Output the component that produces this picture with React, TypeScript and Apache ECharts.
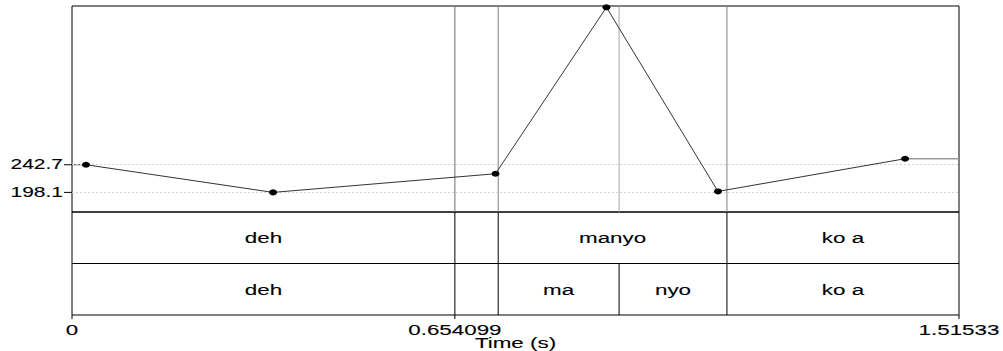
import React, { useEffect, useRef } from "react";
import * as echarts from "echarts";

// ---- data ----
const TIME_MIN = 0;
const TIME_MAX = 1.51533;
const PITCH_MIN = 166.5;
const PITCH_MAX = 498.7;

const pitchTimes = [0.0239, 0.3435, 0.7235, 0.913, 1.1036, 1.4232];
const pitchValues = [242.7, 198.1, 228.2, 496.6, 199.7, 252.4];

const pitchTickValues = [242.7, 198.1];
const pitchTickLabels = ["242.7", "198.1"];

const timeTickValues = [0, 0.654099, 1.51533];
const timeTickLabels = ["0", "0.654099", "1.51533"];
const timeAxisTitle = "Time (s)";

// tier 1 (top): words, tier 2 (bottom): syllables
const tier1Starts = [0, 0.654099, 0.7281, 1.1189];
const tier1Ends = [0.654099, 0.7281, 1.1189, 1.51533];
const tier1Labels = ["deh", "", "manyo", "ko a"];

const tier2Starts = [0, 0.654099, 0.7281, 0.9346, 1.1189];
const tier2Ends = [0.654099, 0.7281, 0.9346, 1.1189, 1.51533];
const tier2Labels = ["deh", "", "ma", "nyo", "ko a"];

const boundaryTimes = [0.654099, 0.7281, 0.9346, 1.1189];

// ---- styles ----
const FONT = '"Liberation Sans", Arial, sans-serif';
const boundaryColors = ["#6a6a6a", "#808080", "#a8a8a8", "#808080"];

type TierItem = { start: number; end: number; tier: number; label: string };
const tierItems: TierItem[] = [
  ...tier1Starts.map((s, i) => ({ start: s, end: tier1Ends[i], tier: 1, label: tier1Labels[i] })),
  ...tier2Starts.map((s, i) => ({ start: s, end: tier2Ends[i], tier: 0, label: tier2Labels[i] })),
];

const textStyle = (text: string, align: string, verticalAlign: string) => ({
  text,
  align,
  verticalAlign,
  fontSize: 14,
  fontFamily: FONT,
  fill: "#000",
  stroke: "#000",
  lineWidth: 0.1,
});

export default function App() {
  const ref = useRef<HTMLDivElement>(null);

  useEffect(() => {
    if (!ref.current) return;
    const chart = echarts.init(ref.current, undefined, { renderer: "svg" });

    const pitchData = pitchTimes.map((t, i) => [t, pitchValues[i]]);
    const firstIdx = 0;
    const lastIdx = pitchTimes.length - 1;

    const option: any = {
      animation: false,
      backgroundColor: "#fff",
      grid: [
        { left: 72, right: 44, top: 6, height: 206, show: true, borderColor: "#000", borderWidth: 1, backgroundColor: "transparent" },
        { left: 72, right: 44, top: 212, height: 103, show: true, borderColor: "#000", borderWidth: 1, backgroundColor: "transparent" },
      ],
      xAxis: [
        { type: "value", gridIndex: 0, min: TIME_MIN, max: TIME_MAX, show: false },
        { type: "value", gridIndex: 1, min: TIME_MIN, max: TIME_MAX, show: false },
      ],
      yAxis: [
        { type: "value", gridIndex: 0, min: PITCH_MIN, max: PITCH_MAX, show: false },
        { type: "value", gridIndex: 1, min: 0, max: 2, show: false },
      ],
      series: [
        // dotted guide lines at the labelled pitch values
        {
          type: "line",
          xAxisIndex: 0,
          yAxisIndex: 0,
          data: [],
          silent: true,
          markLine: {
            silent: true,
            symbol: "none",
            label: { show: false },
            animation: false,
            data: pitchTickValues.map((v) => ({
              yAxis: v,
              lineStyle: { color: "#d4d4d4", type: [2, 2], width: 1 },
            })),
          },
        },
        // boundary lines across the pitch area
        {
          type: "custom",
          xAxisIndex: 0,
          yAxisIndex: 0,
          clip: false,
          silent: true,
          data: boundaryTimes.map((t) => [t, PITCH_MIN]),
          renderItem: (params: any, api: any) => {
            const t = boundaryTimes[params.dataIndex];
            const top = api.coord([t, PITCH_MAX]);
            const bottom = api.coord([t, PITCH_MIN]);
            return {
              type: "line",
              shape: { x1: top[0], y1: top[1], x2: bottom[0], y2: bottom[1] },
              style: { stroke: boundaryColors[params.dataIndex], lineWidth: 1 },
            };
          },
        },
        // extensions to the edges
        {
          type: "line",
          xAxisIndex: 0,
          yAxisIndex: 0,
          data: [
            [TIME_MIN, pitchValues[firstIdx]],
            [pitchTimes[firstIdx], pitchValues[firstIdx]],
          ],
          symbol: "none",
          lineStyle: { color: "#444", width: 1 },
          silent: true,
        },
        {
          type: "line",
          xAxisIndex: 0,
          yAxisIndex: 0,
          data: [
            [pitchTimes[lastIdx], pitchValues[lastIdx]],
            [TIME_MAX, pitchValues[lastIdx]],
          ],
          symbol: "none",
          lineStyle: { color: "#999", width: 1.5 },
          silent: true,
        },
        // pitch contour
        {
          type: "line",
          xAxisIndex: 0,
          yAxisIndex: 0,
          data: pitchData,
          symbol: "circle",
          symbolSize: [8, 6],
          showAllSymbol: true,
          itemStyle: { color: "#000", borderWidth: 0 },
          lineStyle: { color: "#333", width: 1 },
          silent: true,
          z: 5,
        },
        // y tick labels
        {
          type: "custom",
          xAxisIndex: 0,
          yAxisIndex: 0,
          clip: false,
          silent: true,
          data: pitchTickValues.map((v) => [TIME_MIN, v]),
          renderItem: (params: any, api: any) => {
            const v = pitchTickValues[params.dataIndex];
            const p = api.coord([TIME_MIN, v]);
            return {
              type: "group",
              children: [
                { type: "line", shape: { x1: p[0] - 8, y1: p[1], x2: p[0], y2: p[1] }, style: { stroke: "#000", lineWidth: 1 } },
                {
                  type: "text",
                  x: p[0] - 9,
                  y: p[1],
                  scaleX: 1.5,
                  style: textStyle(pitchTickLabels[params.dataIndex], "right", "middle"),
                },
              ],
            };
          },
        },
        // tiers
        {
          type: "custom",
          xAxisIndex: 1,
          yAxisIndex: 1,
          clip: false,
          silent: true,
          data: tierItems.map((it) => [it.start, it.end, it.tier]),
          renderItem: (params: any, api: any) => {
            const it = tierItems[params.dataIndex];
            const a = api.coord([it.start, it.tier]);
            const b = api.coord([it.end, it.tier + 1]);
            const children: any[] = [];
            if (it.start > TIME_MIN) {
              children.push({ type: "line", shape: { x1: a[0], y1: b[1], x2: a[0], y2: a[1] }, style: { stroke: "#000", lineWidth: 1 } });
            }
            if (it.tier === 0) {
              children.push({ type: "line", shape: { x1: a[0], y1: b[1], x2: b[0], y2: b[1] }, style: { stroke: "#000", lineWidth: 1 } });
            }
            if (it.label) {
              children.push({
                type: "text",
                x: (a[0] + b[0]) / 2,
                y: (a[1] + b[1]) / 2 + 0.5,
                scaleX: 1.6,
                style: textStyle(it.label, "center", "middle"),
              });
            }
            return { type: "group", children };
          },
        },
        // time tick labels
        {
          type: "custom",
          xAxisIndex: 1,
          yAxisIndex: 1,
          clip: false,
          silent: true,
          data: timeTickValues.map((t) => [t, 0]),
          renderItem: (params: any, api: any) => {
            const t = timeTickValues[params.dataIndex];
            const p = api.coord([t, 0]);
            return {
              type: "group",
              children: [
                { type: "line", shape: { x1: p[0], y1: p[1], x2: p[0], y2: p[1] + 4 }, style: { stroke: "#000", lineWidth: 1 } },
                {
                  type: "text",
                  x: p[0],
                  y: p[1] + 8,
                  scaleX: 1.6,
                  style: textStyle(timeTickLabels[params.dataIndex], "center", "top"),
                },
              ],
            };
          },
        },
        // axis title
        {
          type: "custom",
          xAxisIndex: 1,
          yAxisIndex: 1,
          clip: false,
          silent: true,
          data: [[(TIME_MIN + TIME_MAX) / 2, 0]],
          renderItem: (params: any, api: any) => {
            const p = api.coord([(TIME_MIN + TIME_MAX) / 2, 0]);
            return {
              type: "text",
              x: p[0],
              y: p[1] + 21,
              scaleX: 1.6,
              style: textStyle(timeAxisTitle, "center", "top"),
            };
          },
        },
      ],
    };

    chart.setOption(option);
    return () => chart.dispose();
  }, []);

  return (
    <div
      ref={ref}
      style={{ position: "fixed", left: 0, top: 0, width: 1003, height: 351, background: "#fff" }}
    />
  );
}
